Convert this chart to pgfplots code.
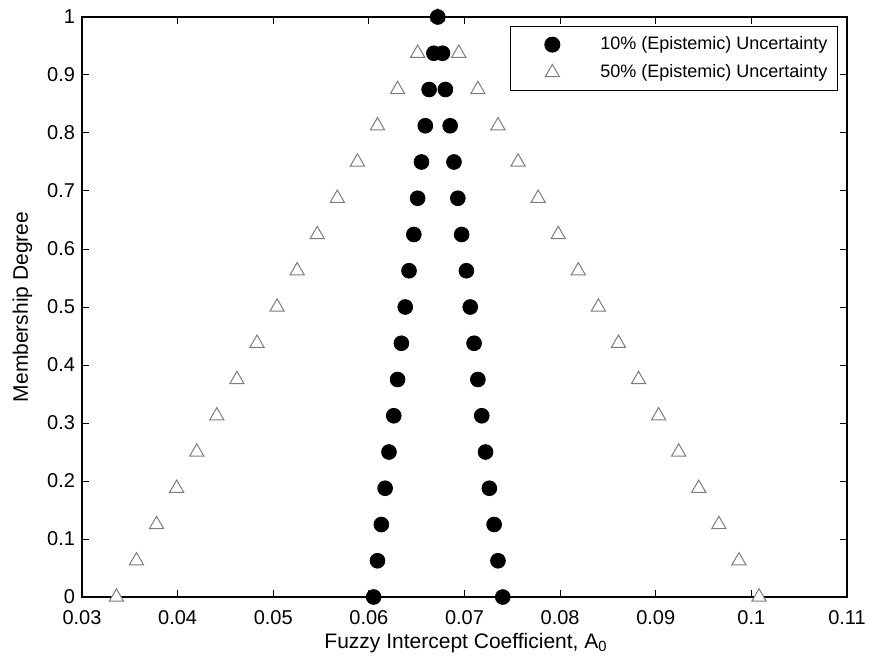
\documentclass[border=0pt]{standalone}
\usepackage{fontspec}
\setmainfont{Liberation Sans}
\usepackage{pgfplots}
\pgfplotsset{compat=1.18}
\definecolor{trigray}{RGB}{125,125,125}
\begin{document}
\begin{tikzpicture}
\begin{axis}[
  scale only axis,
  width=382.5pt, height=290pt,
  xmin=0.03, xmax=0.11, ymin=0, ymax=1,
  xtick={0.03,0.04,0.05,0.06,0.07,0.08,0.09,0.1,0.11},
  ytick={0,0.1,0.2,0.3,0.4,0.5,0.6,0.7,0.8,0.9,1},
  scaled x ticks=false, scaled y ticks=false,
  xticklabel style={/pgf/number format/fixed, /pgf/number format/precision=2, yshift=-3pt},
  yticklabel style={/pgf/number format/fixed, /pgf/number format/precision=1},
  /pgf/number format/assume math mode=true,
  tick label style={font=\fontsize{10}{12}\selectfont},
  label style={font=\fontsize{10.5}{12.5}\selectfont},
  xlabel={Fuzzy Intercept Coefficient, A\textsubscript{0}},
  ylabel={Membership Degree},
  xlabel style={at={(axis description cs:0.502,-0.0793)}, anchor=center},
  ylabel style={at={(axis description cs:-0.078,0.5)}, anchor=center},
  tick align=inside, xtick pos=both, ytick pos=both,
  major tick length=3.5pt,
  axis line style={line width=0.7pt},
  tick style={line width=0.5pt, black},
  clip=false,
  reverse legend,
  legend style={at={(axis description cs:1,1)}, anchor=north east,
    xshift=-4.5pt, yshift=-4.5pt, draw=black, line width=0.6pt,
    font=\fontsize{9}{11}\selectfont, inner xsep=4pt, inner ysep=3.5pt,
    row sep=3pt, column sep=0pt,
    nodes={inner sep=1pt, text height=7pt, text depth=2pt}},
  legend image code/.code={\path[draw=none] (0pt,0pt) -- (40pt,0pt); \draw[#1] plot[only marks] coordinates {(17pt,0pt)};},
]
% 50% (epistemic) uncertainty - open gray triangles
\addplot[only marks, mark=triangle*, mark size=4.1pt,
  mark options={draw=trigray, fill=white, line width=0.5pt}] coordinates {
 (0.0336,0) (0.0357,0.0625) (0.0378,0.125) (0.0399,0.1875) (0.0420,0.25)
 (0.0441,0.3125) (0.0462,0.375) (0.0483,0.4375) (0.0504,0.5) (0.0525,0.5625)
 (0.0546,0.625) (0.0567,0.6875) (0.0588,0.75) (0.0609,0.8125) (0.0630,0.875)
 (0.0651,0.9375) (0.0672,1)
 (0.1008,0) (0.0987,0.0625) (0.0966,0.125) (0.0945,0.1875) (0.0924,0.25)
 (0.0903,0.3125) (0.0882,0.375) (0.0861,0.4375) (0.0840,0.5) (0.0819,0.5625)
 (0.0798,0.625) (0.0777,0.6875) (0.0756,0.75) (0.0735,0.8125) (0.0714,0.875)
 (0.0694,0.9375)
};
\addlegendentry{50\% (Epistemic) Uncertainty}
% 10% (epistemic) uncertainty - black dots
\addplot[only marks, mark=*, mark size=3.7pt,
  mark options={draw=black, fill=black}] coordinates {
 (0.0605,0) (0.0609,0.0625) (0.0613,0.125) (0.0617,0.1875) (0.0621,0.25)
 (0.0626,0.3125) (0.0630,0.375) (0.0634,0.4375) (0.0638,0.5) (0.0642,0.5625)
 (0.0647,0.625) (0.0651,0.6875) (0.0655,0.75) (0.0659,0.8125) (0.0663,0.875)
 (0.0668,0.9375) (0.0672,1)
 (0.0740,0) (0.0735,0.0625) (0.0731,0.125) (0.0726,0.1875) (0.0722,0.25)
 (0.0718,0.3125) (0.0714,0.375) (0.0710,0.4375) (0.0706,0.5) (0.0702,0.5625)
 (0.0697,0.625) (0.0693,0.6875) (0.0689,0.75) (0.0685,0.8125) (0.0680,0.875)
 (0.0677,0.9375)
};
\addlegendentry{10\% (Epistemic) Uncertainty}
\end{axis}
\pgfresetboundingbox
\path[use as bounding box] ([shift={(-41pt,-33.5pt)}]current axis.south west) rectangle ([shift={(11pt,8.5pt)}]current axis.north east);
\end{tikzpicture}
\end{document}
